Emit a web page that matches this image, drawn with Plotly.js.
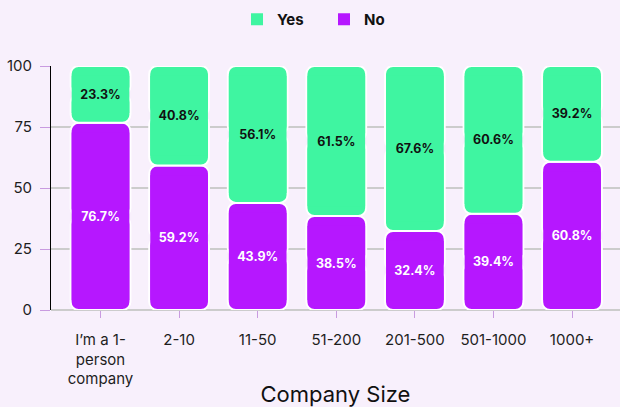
<!DOCTYPE html>
<html>
<head>
<meta charset="utf-8">
<script src="https://cdn.plot.ly/plotly-3.0.1.min.js"></script>
<style>
  html, body { margin: 0; padding: 0; background: #f8f0fc; }
  #chart { width: 620px; height: 407px; }
</style>
</head>
<body>
<div id="chart"></div>
<script>
// ---- data ----
const categories = ["I’m a 1-<br>person<br>company", "2-10", "11-50", "51-200", "201-500", "501-1000", "1000+"];
const yesValues = [23.3, 40.8, 56.1, 61.5, 67.6, 60.6, 39.2];
const noValues  = [76.7, 59.2, 43.9, 38.5, 32.4, 39.4, 60.8];
const seriesNames = ["Yes", "No"];

// ---- style constants ----
const GREEN = "#3ff5a1";
const PURPLE = "#b617ff";
const BG = "#f8f0fc";
const FONT = "Inter, 'Noto Sans', sans-serif";
const BAR_W = 0.76;      // bar width in category units
const LINE_W = 2;        // white outline, px
const RADIUS = 8;        // corner radius, px
const PAD = 4;           // inner filler inset, data units

function segmentTraces(name, lo, hi, color, textColor, rank) {
  const mid = lo.map((l, i) => (l + hi[i]) / 2);
  const common = {
    type: "bar", x: categories, marker: { color: color, cornerradius: RADIUS, line: { color: "#ffffff", width: LINE_W } },
    width: BAR_W, hoverinfo: "skip", showlegend: false, legendgroup: name
  };
  const down = Object.assign({}, common, { base: mid, y: mid.map((m, i) => -(m - lo[i])) });
  const up = Object.assign({}, common, { base: mid, y: mid.map((m, i) => hi[i] - m) });
  const fill = {
    type: "bar", x: categories, name: name, legendgroup: name, legendrank: rank, showlegend: true,
    base: lo.map(l => l + PAD), y: lo.map((l, i) => (hi[i] - l) - 2 * PAD),
    width: BAR_W - 0.026,
    marker: { color: color, line: { width: 0 } },
    text: lo.map((l, i) => (hi[i] - l).toFixed(1) + "%"),
    textposition: "inside", insidetextanchor: "middle", textangle: 0, constraintext: "none",
    insidetextfont: { family: FONT, size: 12.5, color: textColor, weight: 700 },
    hovertemplate: name + ": %{text}<extra></extra>"
  };
  return [down, up, fill];
}

const zeros = noValues.map(() => 0);
const noTop = noValues.slice();
const yesTop = noValues.map((n, i) => n + yesValues[i]);

const traces = []
  .concat(segmentTraces(seriesNames[1], zeros, noTop, PURPLE, "#ffffff", 2))
  .concat(segmentTraces(seriesNames[0], noTop, yesTop, GREEN, "#111111", 1));

const layout = {
  width: 620, height: 407,
  paper_bgcolor: BG, plot_bgcolor: BG,
  font: { family: FONT, color: "#1e1e1e", size: 15 },
  margin: { l: 51, r: 0, t: 66, b: 97, pad: 0 },
  barmode: "overlay",
  showlegend: true,
  legend: {
    orientation: "h", xref: "container", yref: "container",
    x: 0.5226, xanchor: "center", y: 0.9926, yanchor: "top",
    entrywidth: 42, entrywidthmode: "pixels",
    font: { family: FONT, size: 15, color: "#111111", weight: 700 },
    bgcolor: "rgba(0,0,0,0)", itemclick: false, itemdoubleclick: false
  },
  xaxis: {
    type: "category", range: [-0.63, 6.61],
    showgrid: false, zeroline: false, showline: false,
    ticks: "outside", ticklen: 7, tickwidth: 1, tickcolor: "#c99be0",
    ticklabelstandoff: 9,
    tickfont: { family: FONT, size: 15, color: "#1e1e1e" },
    title: { text: "Company Size", font: { family: FONT, size: 22, color: "#111111" }, standoff: 14 },
    fixedrange: true
  },
  yaxis: {
    range: [0, 100], tickvals: [0, 25, 50, 75, 100],
    showgrid: true, gridcolor: "#cccccc", gridwidth: 2,
    zeroline: true, zerolinecolor: "#cccccc", zerolinewidth: 2,
    showline: true, linecolor: "#000000", linewidth: 1,
    ticks: "outside", ticklen: 10, tickwidth: 1, tickcolor: "#c99be0",
    ticklabelstandoff: 5,
    tickfont: { family: FONT, size: 15, color: "#1e1e1e" },
    fixedrange: true
  }
};

Plotly.newPlot("chart", traces, layout, { displayModeBar: false, staticPlot: true });
</script>
</body>
</html>
